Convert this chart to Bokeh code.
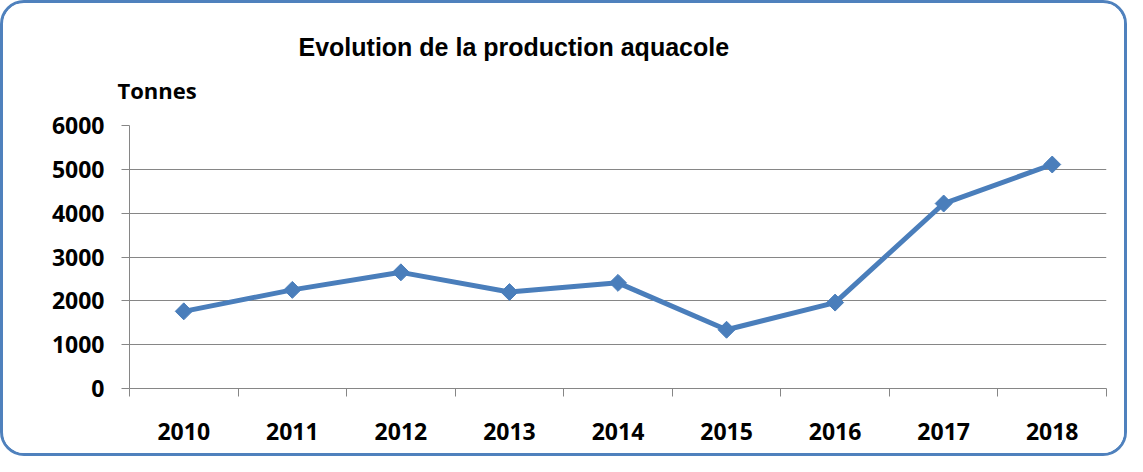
from bokeh.plotting import figure
from bokeh.models import Range1d, FixedTicker, Title
from bokeh.embed import file_html
from bokeh.resources import INLINE
import numpy as np

# ---- data ----
years = [2010, 2011, 2012, 2013, 2014, 2015, 2016, 2017, 2018]
production = [1760, 2250, 2650, 2200, 2410, 1340, 1960, 4220, 5110]
y_ticks = [0, 1000, 2000, 3000, 4000, 5000, 6000]
title_text = "Evolution de la production aquacole"
unit_text = "Tonnes"

GRID = "#868686"
LINE = "#4A7EBB"
BORDER = "#4F81BD"
LABEL_FONT = "Open Sans"

p = figure(width=1127, height=456, output_backend="svg", toolbar_location=None,
           x_range=Range1d(years[0] - 0.5, years[-1] + 0.5),
           y_range=Range1d(y_ticks[0], y_ticks[-1]),
           min_border_left=126, min_border_right=24,
           min_border_top=122, min_border_bottom=71,
           styles={"border": f"3px solid {BORDER}", "border-radius": "24px",
                   "overflow": "hidden", "background-color": "white"})
p.outline_line_color = None
p.background_fill_color = "white"
p.border_fill_color = "white"

# main title
p.title.text = title_text
p.title.align = "left"
p.title.offset = 169
p.title.text_font = "Liberation Sans"
p.title.text_font_style = "bold"
p.title.text_font_size = "25px"
p.title.text_color = "black"
p.title.standoff = -17

# unit label above the value axis
p.add_layout(Title(text=unit_text, align="left", offset=-12,
                   text_font=LABEL_FONT, text_font_style="bold",
                   text_font_size="22px", text_color="black",
                   standoff=41), "above")

# x axis: labels at year centres, tick marks between categories (minor ticks)
boundaries = [y - 0.5 for y in years] + [years[-1] + 0.5]
p.xaxis.ticker = FixedTicker(ticks=years, minor_ticks=boundaries)
p.xaxis.major_label_overrides = {y: str(y) for y in years}
p.xaxis.major_tick_line_color = None
p.xaxis.major_tick_out = 0
p.xaxis.major_tick_in = 0
p.xaxis.minor_tick_line_color = GRID
p.xaxis.minor_tick_out = 8
p.xaxis.minor_tick_in = 0
p.xaxis.axis_line_color = GRID
p.xaxis.major_label_standoff = 26
p.xaxis.major_label_text_font = LABEL_FONT
p.xaxis.major_label_text_font_style = "bold"
p.xaxis.major_label_text_font_size = "23px"
p.xaxis.major_label_text_color = "black"

p.yaxis.ticker = FixedTicker(ticks=y_ticks, minor_ticks=[])
p.yaxis.axis_line_color = GRID
p.yaxis.major_tick_line_color = GRID
p.yaxis.major_tick_out = 8
p.yaxis.major_tick_in = 0
p.yaxis.minor_tick_line_color = None
p.yaxis.major_label_standoff = 17
p.yaxis.major_label_text_font = LABEL_FONT
p.yaxis.major_label_text_font_style = "bold"
p.yaxis.major_label_text_font_size = "23px"
p.yaxis.major_label_text_color = "black"

p.xgrid.grid_line_color = None
p.ygrid.ticker = FixedTicker(ticks=y_ticks[1:])
p.ygrid.grid_line_color = GRID
p.ygrid.grid_line_width = 1

# series
p.line(years, production, line_color=LINE, line_width=5)
p.scatter(years, production, marker="square", angle=np.pi / 4, size=12,
          fill_color=LINE, line_color=LINE)

open("out.html", "w").write(file_html(p, INLINE))
